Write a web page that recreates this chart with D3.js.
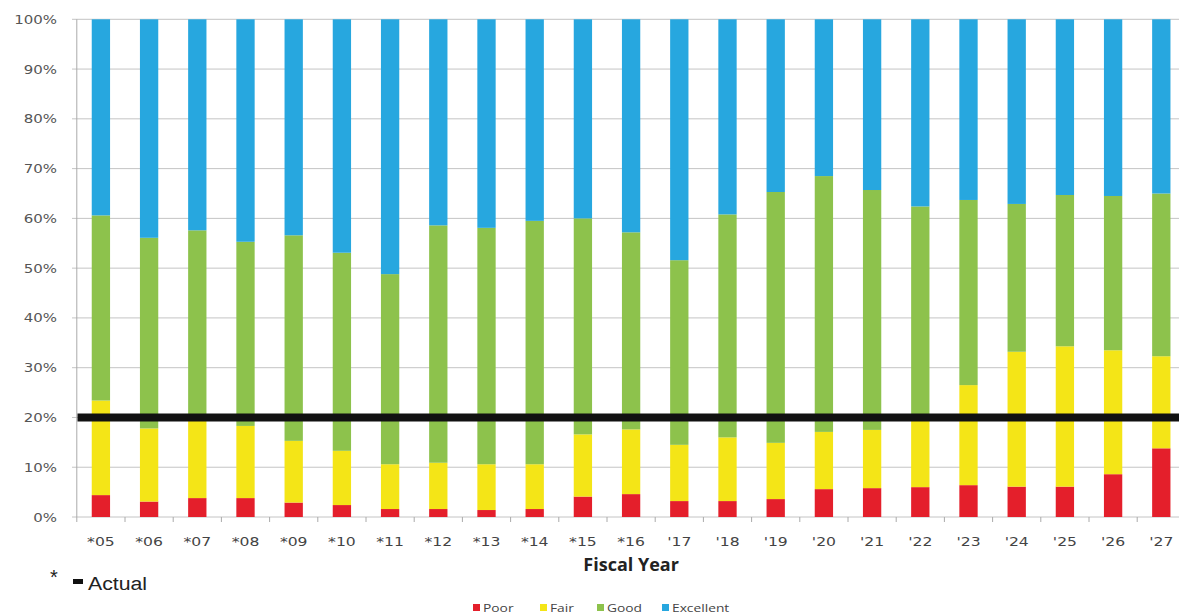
<!DOCTYPE html>
<html>
<head>
<meta charset="utf-8">
<script src="https://cdn.jsdelivr.net/npm/d3@7"></script>
<style>
  html, body { margin: 0; padding: 0; background: #fff; }
  svg { display: block; }
</style>
</head>
<body>
<svg id="chart" width="1179" height="616"></svg>
<script>
// ---- data (percent of total) ----
const years = ["05","06","07","08","09","10","11","12","13","14","15","16","17","18","19","20","21","22","23","24","25","26","27"];
const actual = [1,1,1,1,1,1,1,1,1,1,1,1,0,0,0,0,0,0,0,0,0,0,0];
const poor      = [4.4,3.1,3.8,3.8,2.9,2.4,1.6,1.6,1.4,1.6,4.1,4.6,3.2,3.2,3.6,5.6,5.8,6.0,6.4,6.1,6.1,8.6,13.8];
const fair      = [19.0,14.7,16.2,14.5,12.4,10.9,9.0,9.3,9.2,9.0,12.5,13.0,11.3,12.8,11.3,11.5,11.7,14.0,20.1,27.1,28.2,24.9,18.5];
const good      = [37.2,38.3,37.6,37.0,41.3,39.8,38.2,47.7,47.5,48.9,43.4,39.6,37.1,44.8,50.4,51.4,48.2,42.4,37.2,29.7,30.4,31.0,32.7];
const excellent = [39.4,43.9,42.4,44.7,43.4,46.9,51.2,41.4,41.9,40.5,40.0,42.8,48.4,39.2,34.7,31.5,34.3,37.6,36.3,37.1,35.3,35.5,35.0];
const seriesNames = ["Poor","Fair","Good","Excellent"];
const seriesColors = ["#e41f2b","#f4e517","#8dc24c","#27a7df"];
const yTicks = [0,10,20,30,40,50,60,70,80,90,100];
const threshold = 20;

const rows = years.map((y,i) => ({year:y, Poor:poor[i], Fair:fair[i], Good:good[i], Excellent:excellent[i]}));
const label = (y,i) => (actual[i] ? "*" : "'") + y;

const svg = d3.select("#chart");
svg.append("rect").attr("width",1179).attr("height",616).attr("fill","#fff");

const x = d3.scaleBand().domain(years).range([76.8, 1185.4]).padding(0);
const y = d3.scaleLinear().domain([0,100]).range([517, 19.3]);
const barW = x.bandwidth() * 0.38;

// gridlines
svg.append("g").selectAll("line").data(yTicks).join("line")
  .attr("x1", 72).attr("x2", 1179)
  .attr("y1", d => y(d)).attr("y2", d => y(d))
  .attr("stroke", "#c4c4c4").attr("stroke-width", 1);

// y axis line
svg.append("line").attr("x1", 76.8).attr("x2", 76.8).attr("y1", y(100)).attr("y2", y(0))
  .attr("stroke", "#aaa").attr("stroke-width", 1);

// y tick labels
svg.append("g").selectAll("text").data(yTicks).join("text")
  .attr("transform", d => `translate(57,${y(d)}) scale(1.2,1)`)
  .attr("dy", "0.36em")
  .attr("text-anchor", "end")
  .attr("font-family", "DejaVu Sans, Verdana, sans-serif")
  .attr("font-size", 12.5)
  .attr("fill", "#555")
  .text(d => d + "%");

// stacked bars
const stack = d3.stack().keys(seriesNames)(rows);
svg.append("g").selectAll("g").data(stack).join("g")
  .attr("fill", (d,i) => seriesColors[i])
  .selectAll("rect").data(d => d).join("rect")
  .attr("x", d => x(d.data.year) + (x.bandwidth() - barW) / 2)
  .attr("width", barW)
  .attr("y", d => y(d[1]))
  .attr("height", d => y(d[0]) - y(d[1]));

// x axis ticks at band boundaries
const bounds = years.map(d => x(d)).concat([x(years[years.length-1]) + x.bandwidth()]);
svg.append("g").selectAll("line").data(bounds).join("line")
  .attr("x1", d => d).attr("x2", d => d)
  .attr("y1", y(0)).attr("y2", y(0) + 5)
  .attr("stroke", "#aaa");

// x tick labels
svg.append("g").selectAll("text").data(years).join("text")
  .attr("transform", d => `translate(${x(d) + x.bandwidth()/2},${y(0) + 29}) scale(1.25,1)`)
  .attr("text-anchor", "middle")
  .attr("font-family", "DejaVu Sans, Verdana, sans-serif")
  .attr("font-size", 12.5)
  .attr("fill", "#444")
  .text((d,i) => label(d,i));

// threshold line
svg.append("line")
  .attr("x1", 77.5).attr("x2", 1179)
  .attr("y1", y(threshold)).attr("y2", y(threshold))
  .attr("stroke", "#111").attr("stroke-width", 8);

// axis title
svg.append("text")
  .attr("x", (x.range()[0] + x.range()[1]) / 2).attr("y", 571)
  .attr("text-anchor", "middle")
  .attr("font-family", "Open Sans, DejaVu Sans, sans-serif")
  .attr("font-weight", "bold")
  .attr("font-size", 18)
  .attr("fill", "#222")
  .text("Fiscal Year");

// actual note
svg.append("text").attr("x", 50).attr("y", 584)
  .attr("font-family", "Liberation Sans, Arial, sans-serif").attr("font-size", 20).attr("fill","#222").text("*");
svg.append("rect").attr("x", 73).attr("y", 579).attr("width", 10).attr("height", 5).attr("fill", "#111");
svg.append("text").attr("transform", "translate(88,590) scale(1.12,1)")
  .attr("font-family", "Liberation Sans, Arial, sans-serif").attr("font-size", 19).attr("fill","#222").text("Actual");

// legend
const legendX = [473, 540, 597, 662];
const lg = svg.append("g").selectAll("g").data(seriesNames).join("g")
  .attr("transform", (d,i) => `translate(${legendX[i]},604)`);
lg.append("rect").attr("width", 7).attr("height", 7).attr("fill", (d,i) => seriesColors[i]);
lg.append("text").attr("transform", "translate(10,8) scale(1.2,1)")
  .attr("font-family", "Open Sans, DejaVu Sans, sans-serif").attr("font-size", 11.5)
  .attr("fill", "#444").text(d => d);
</script>
</body>
</html>
